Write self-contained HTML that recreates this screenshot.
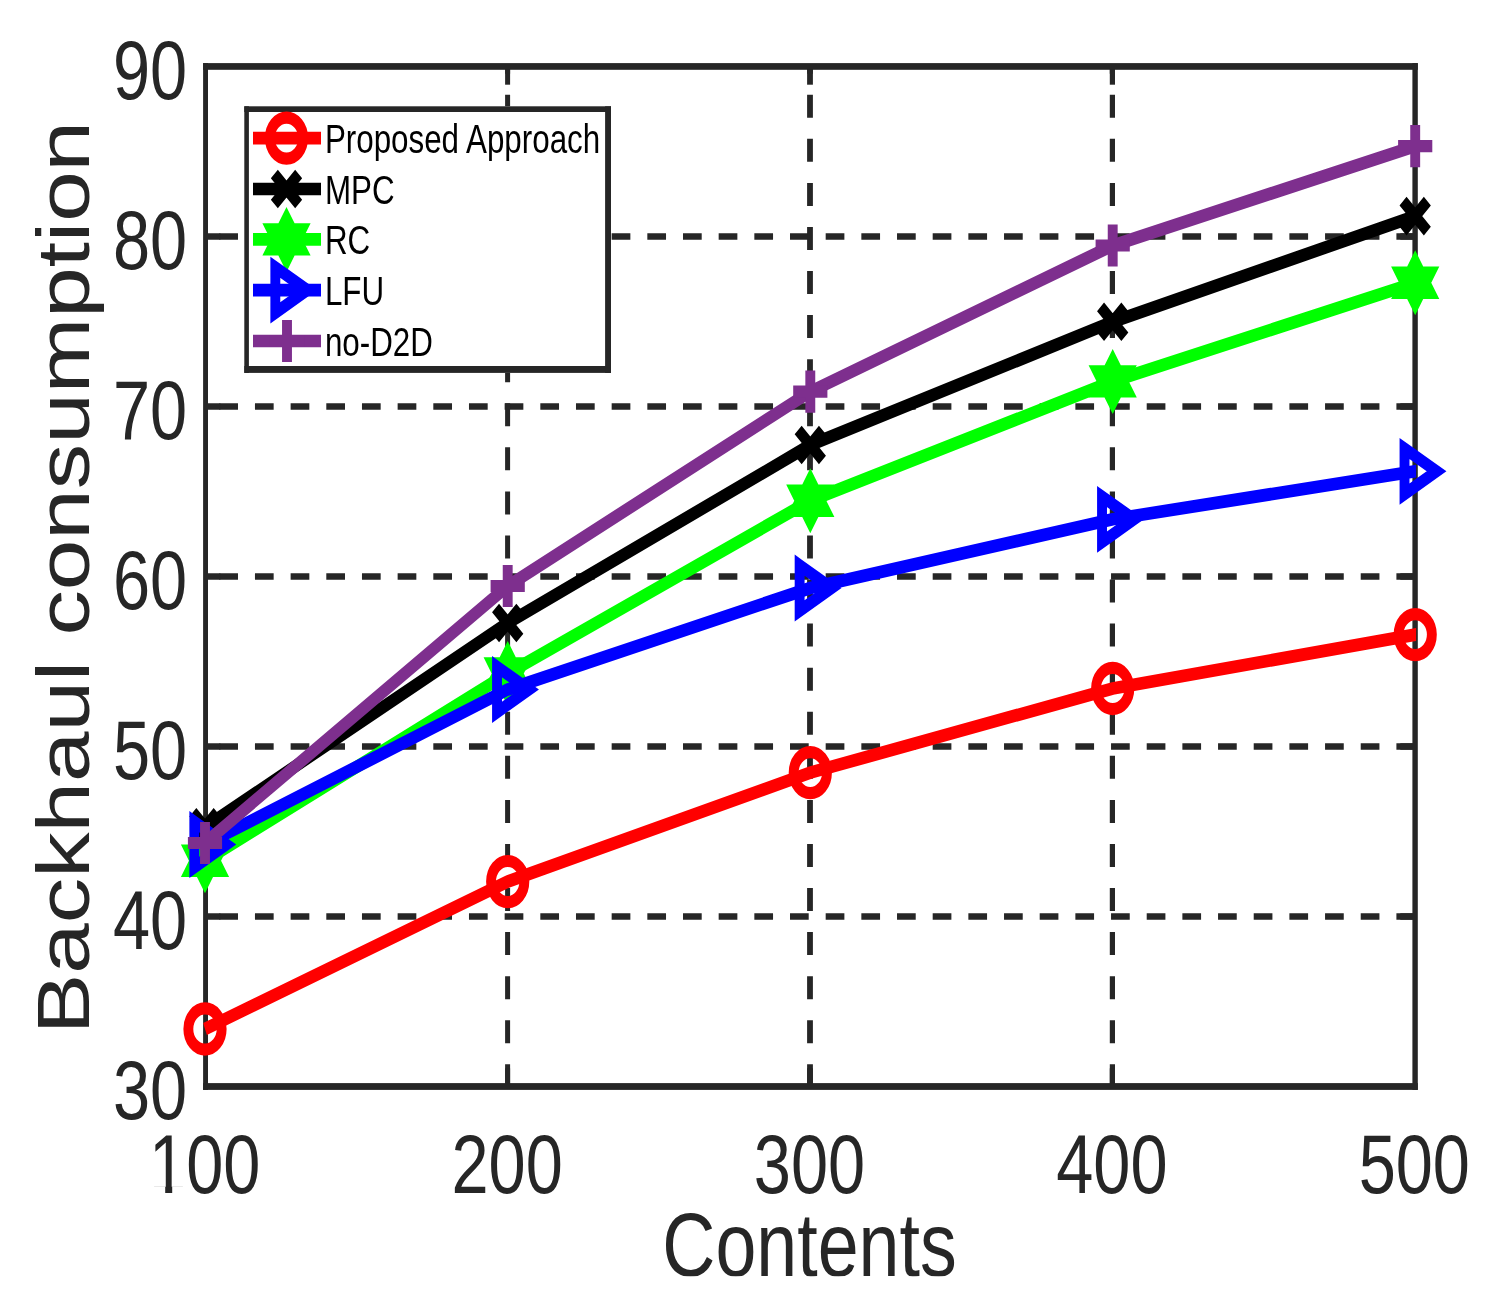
<!DOCTYPE html>
<html lang="en"><head><meta charset="utf-8"><title>Backhaul consumption vs Contents</title>
<style>
html,body{margin:0;padding:0;background:#fff}
svg{display:block}
text{font-family:"Liberation Sans",Arial,Helvetica,sans-serif}
</style></head><body>
<svg width="1499" height="1315" viewBox="0 0 1499 1315">
<rect x="0" y="0" width="1499" height="1315" fill="#ffffff"/>
<defs><clipPath id="axclip"><rect x="203.1" y="0" width="1213.0" height="1315"/></clipPath>
<clipPath id="xlclip"><rect x="600" y="1190" width="420" height="86.2"/></clipPath></defs>
<g stroke="#262626" fill="none">
<line x1="1415.1" y1="236.5" x2="205.55" y2="236.5" stroke-width="6.5" stroke-dasharray="18.7 16.97"/>
<line x1="1415.1" y1="406.5" x2="205.55" y2="406.5" stroke-width="6.5" stroke-dasharray="18.7 16.97"/>
<line x1="1415.1" y1="576.5" x2="205.55" y2="576.5" stroke-width="6.5" stroke-dasharray="18.7 16.97"/>
<line x1="1415.1" y1="746.5" x2="205.55" y2="746.5" stroke-width="6.5" stroke-dasharray="18.7 16.97"/>
<line x1="1415.1" y1="916.5" x2="205.55" y2="916.5" stroke-width="6.5" stroke-dasharray="18.7 16.97"/>
<line x1="507.6" y1="1087.3" x2="507.6" y2="66.5" stroke-width="5.0" stroke-dasharray="23 21.07"/>
<line x1="810" y1="1087.3" x2="810" y2="66.5" stroke-width="5.8" stroke-dasharray="23 21.07"/>
<line x1="1112.4" y1="1087.3" x2="1112.4" y2="66.5" stroke-width="5.2" stroke-dasharray="23 21.07"/>
<line x1="205.55" y1="236.5" x2="220.35000000000002" y2="236.5" stroke-width="6.5"/>
<line x1="1415.1" y1="236.5" x2="1400.3" y2="236.5" stroke-width="6.5"/>
<line x1="205.55" y1="406.5" x2="220.35000000000002" y2="406.5" stroke-width="6.5"/>
<line x1="1415.1" y1="406.5" x2="1400.3" y2="406.5" stroke-width="6.5"/>
<line x1="205.55" y1="576.5" x2="220.35000000000002" y2="576.5" stroke-width="6.5"/>
<line x1="1415.1" y1="576.5" x2="1400.3" y2="576.5" stroke-width="6.5"/>
<line x1="205.55" y1="746.5" x2="220.35000000000002" y2="746.5" stroke-width="6.5"/>
<line x1="1415.1" y1="746.5" x2="1400.3" y2="746.5" stroke-width="6.5"/>
<line x1="205.55" y1="916.5" x2="220.35000000000002" y2="916.5" stroke-width="6.5"/>
<line x1="1415.1" y1="916.5" x2="1400.3" y2="916.5" stroke-width="6.5"/>
<line x1="507.6" y1="66.5" x2="507.6" y2="84.7" stroke-width="5.0"/>
<line x1="507.6" y1="1086.5" x2="507.6" y2="1068.3" stroke-width="5.0"/>
<line x1="810" y1="66.5" x2="810" y2="84.7" stroke-width="5.8"/>
<line x1="810" y1="1086.5" x2="810" y2="1068.3" stroke-width="5.8"/>
<line x1="1112.4" y1="66.5" x2="1112.4" y2="84.7" stroke-width="5.2"/>
<line x1="1112.4" y1="1086.5" x2="1112.4" y2="1068.3" stroke-width="5.2"/>
</g>
<g fill="#262626">
<rect x="203.1" y="63.1" width="1214.7" height="6.7"/>
<rect x="203.1" y="1083.1" width="1214.7" height="6.8"/>
<rect x="203.1" y="63.1" width="4.9" height="1026.8"/>
<rect x="1412.4" y="63.1" width="5.4" height="1026.8"/>
</g>
<g transform="scale(1 1.234)">
<polyline points="205,833.87 507.7,714.38 810.3,626.13 1112.7,557.94 1415.2,514.26 1421.2,513.4" fill="none" stroke="#ff0000" stroke-width="10.3" stroke-linejoin="miter" clip-path="url(#axclip)"/>
<circle cx="205" cy="833.87" r="16.65" fill="none" stroke="#ff0000" stroke-width="9.9"/>
<circle cx="507.7" cy="714.38" r="16.65" fill="none" stroke="#ff0000" stroke-width="9.9"/>
<circle cx="810.3" cy="626.13" r="16.65" fill="none" stroke="#ff0000" stroke-width="9.9"/>
<circle cx="1112.7" cy="557.94" r="16.65" fill="none" stroke="#ff0000" stroke-width="9.9"/>
<circle cx="1415.2" cy="514.26" r="16.65" fill="none" stroke="#ff0000" stroke-width="9.9"/>
</g>
<g transform="scale(1 1.234)">
<polyline points="205,670.34 507.7,504.86 810.3,360.62 1112.7,260.78 1415.2,175.12 1421.2,173.42" fill="none" stroke="#000000" stroke-width="10.3" stroke-linejoin="miter" clip-path="url(#axclip)"/>
<path d="M192.85 658.19L217.15 682.49M192.85 682.49L217.15 658.19" fill="none" stroke="#000000" stroke-width="9.9"/>
<path d="M495.55 492.71L519.85 517.01M495.55 517.01L519.85 492.71" fill="none" stroke="#000000" stroke-width="9.9"/>
<path d="M798.15 348.47L822.45 372.77M798.15 372.77L822.45 348.47" fill="none" stroke="#000000" stroke-width="9.9"/>
<path d="M1100.55 248.63L1124.85 272.93M1100.55 272.93L1124.85 248.63" fill="none" stroke="#000000" stroke-width="9.9"/>
<path d="M1403.05 162.97L1427.35 187.27M1403.05 187.27L1427.35 162.97" fill="none" stroke="#000000" stroke-width="9.9"/>
</g>
<g transform="scale(1 1.234)">
<polyline points="205,697.49 507.7,545.79 810.3,405.83 1112.7,309.08 1415.2,229.17 1421.2,227.59" fill="none" stroke="#00ff00" stroke-width="10.3" stroke-linejoin="miter" clip-path="url(#axclip)"/>
<path d="M205 671.15L229.1 710.62L180.9 710.62ZM205 723.82L180.9 684.36L229.1 684.36Z" fill="#00ff00" stroke="none"/>
<path d="M507.7 519.45L531.8 558.91L483.6 558.91ZM507.7 572.12L483.6 532.66L531.8 532.66Z" fill="#00ff00" stroke="none"/>
<path d="M810.3 379.5L834.4 418.96L786.2 418.96ZM810.3 432.17L786.2 392.71L834.4 392.71Z" fill="#00ff00" stroke="none"/>
<path d="M1112.7 282.74L1136.8 322.2L1088.6 322.2ZM1112.7 335.41L1088.6 295.95L1136.8 295.95Z" fill="#00ff00" stroke="none"/>
<path d="M1415.2 202.84L1439.3 242.3L1391.1 242.3ZM1415.2 255.51L1391.1 216.05L1439.3 216.05Z" fill="#00ff00" stroke="none"/>
</g>
<g transform="scale(1 1.234)">
<polyline points="205,684.36 507.7,558.75 810.3,476.5 1112.7,420.83 1415.2,381.93 1421.2,381.16" fill="none" stroke="#0000ff" stroke-width="10.3" stroke-linejoin="miter" clip-path="url(#axclip)"/>
<path d="M194.33 665.88L226.34 684.36L194.33 702.84Z" fill="none" stroke="#0000ff" stroke-width="9.9" stroke-linejoin="miter"/>
<path d="M497.03 540.27L529.04 558.75L497.03 577.23Z" fill="none" stroke="#0000ff" stroke-width="9.9" stroke-linejoin="miter"/>
<path d="M799.63 458.02L831.64 476.5L799.63 494.98Z" fill="none" stroke="#0000ff" stroke-width="9.9" stroke-linejoin="miter"/>
<path d="M1102.03 402.35L1134.04 420.83L1102.03 439.31Z" fill="none" stroke="#0000ff" stroke-width="9.9" stroke-linejoin="miter"/>
<path d="M1404.53 363.45L1436.54 381.93L1404.53 400.41Z" fill="none" stroke="#0000ff" stroke-width="9.9" stroke-linejoin="miter"/>
</g>
<g transform="scale(1 1.234)">
<polyline points="205,683.14 507.7,474.88 810.3,317.42 1112.7,198.95 1415.2,118.4 1421.2,116.8" fill="none" stroke="#7e2f8e" stroke-width="10.3" stroke-linejoin="miter" clip-path="url(#axclip)"/>
<path d="M187.9 683.14H222.1M205 666.04V700.24" fill="none" stroke="#7e2f8e" stroke-width="9.9"/>
<path d="M490.6 474.88H524.8M507.7 457.78V491.98" fill="none" stroke="#7e2f8e" stroke-width="9.9"/>
<path d="M793.2 317.42H827.4M810.3 300.32V334.52" fill="none" stroke="#7e2f8e" stroke-width="9.9"/>
<path d="M1095.6 198.95H1129.8M1112.7 181.85V216.05" fill="none" stroke="#7e2f8e" stroke-width="9.9"/>
<path d="M1398.1 118.4H1432.3M1415.2 101.3V135.5" fill="none" stroke="#7e2f8e" stroke-width="9.9"/>
</g>
<rect x="244.3" y="106.3" width="366.7" height="266.6" fill="#ffffff"/>
<g fill="#262626">
<rect x="244.3" y="106.3" width="366.7" height="5.7"/>
<rect x="244.3" y="366.0" width="366.7" height="6.9"/>
<rect x="244.3" y="106.3" width="4.6" height="266.6"/>
<rect x="605.1" y="106.3" width="5.9" height="266.6"/>
</g>
<g transform="scale(1 1.234)">
<line x1="253" y1="111.91" x2="321" y2="111.91" stroke="#ff0000" stroke-width="10.3"/>
<circle cx="286.5" cy="111.91" r="16.65" fill="none" stroke="#ff0000" stroke-width="9.9"/>
</g>
<g transform="scale(1 1.234)">
<line x1="253" y1="153.16" x2="321" y2="153.16" stroke="#000000" stroke-width="10.3"/>
<path d="M274.35 141.01L298.65 165.31M274.35 165.31L298.65 141.01" fill="none" stroke="#000000" stroke-width="9.9"/>
</g>
<g transform="scale(1 1.234)">
<line x1="253" y1="194" x2="321" y2="194" stroke="#00ff00" stroke-width="10.3"/>
<path d="M286.5 167.67L310.6 207.13L262.4 207.13ZM286.5 220.34L262.4 180.88L310.6 180.88Z" fill="#00ff00" stroke="none"/>
</g>
<g transform="scale(1 1.234)">
<line x1="253" y1="235.09" x2="321" y2="235.09" stroke="#0000ff" stroke-width="10.3"/>
<path d="M275.33 216.61L307.34 235.09L275.33 253.57Z" fill="none" stroke="#0000ff" stroke-width="9.9" stroke-linejoin="miter"/>
</g>
<g transform="scale(1 1.234)">
<line x1="253" y1="276.34" x2="321" y2="276.34" stroke="#7e2f8e" stroke-width="10.3"/>
<path d="M269.9 276.34H304.1M287 259.24V293.44" fill="none" stroke="#7e2f8e" stroke-width="9.9"/>
</g>
<text transform="translate(324.9 152.8) scale(1 1.276)" font-size="31.35" fill="#000000">Proposed Approach</text>
<text transform="translate(324.9 203.8) scale(1 1.276)" font-size="31.35" fill="#000000">MPC</text>
<text transform="translate(324.9 254.2) scale(1 1.276)" font-size="31.35" fill="#000000">RC</text>
<text transform="translate(324.9 305) scale(1 1.276)" font-size="31.35" fill="#000000">LFU</text>
<text transform="translate(324.9 356) scale(1 1.276)" font-size="31.35" fill="#000000">no-D2D</text>
<text transform="translate(187.2 99.1) scale(1 1.25)" font-size="66.7" text-anchor="end" fill="#262626">90</text>
<text transform="translate(187.2 269.1) scale(1 1.25)" font-size="66.7" text-anchor="end" fill="#262626">80</text>
<text transform="translate(187.2 439.1) scale(1 1.25)" font-size="66.7" text-anchor="end" fill="#262626">70</text>
<text transform="translate(187.2 609.1) scale(1 1.25)" font-size="66.7" text-anchor="end" fill="#262626">60</text>
<text transform="translate(187.2 779.1) scale(1 1.25)" font-size="66.7" text-anchor="end" fill="#262626">50</text>
<text transform="translate(187.2 949.1) scale(1 1.25)" font-size="66.7" text-anchor="end" fill="#262626">40</text>
<text transform="translate(187.2 1118.8) scale(1 1.25)" font-size="66.7" text-anchor="end" fill="#262626">30</text>
<text transform="translate(204.75 1193.2) scale(1 1.25)" font-size="66.7" text-anchor="middle" fill="#262626">100</text>
<text transform="translate(507.1 1193.2) scale(1 1.25)" font-size="66.7" text-anchor="middle" fill="#262626">200</text>
<text transform="translate(809.5 1193.2) scale(1 1.25)" font-size="66.7" text-anchor="middle" fill="#262626">300</text>
<text transform="translate(1111.9 1193.2) scale(1 1.25)" font-size="66.7" text-anchor="middle" fill="#262626">400</text>
<text transform="translate(1414.3 1193.2) scale(1 1.25)" font-size="66.7" text-anchor="middle" fill="#262626">500</text>
<rect x="152" y="1186.4" width="13.2" height="8" fill="#ffffff"/><rect x="172.2" y="1186.4" width="13" height="8" fill="#ffffff"/>
<g clip-path="url(#xlclip)"><text transform="translate(809.5 1275.9) scale(1 1.222)" font-size="73.55" text-anchor="middle" fill="#262626">Contents</text></g>
<text transform="translate(89.1 1034.3) rotate(-90) scale(1.2155 1)" font-size="74.7" fill="#262626">Backhaul consumption</text>
</svg></body></html>
